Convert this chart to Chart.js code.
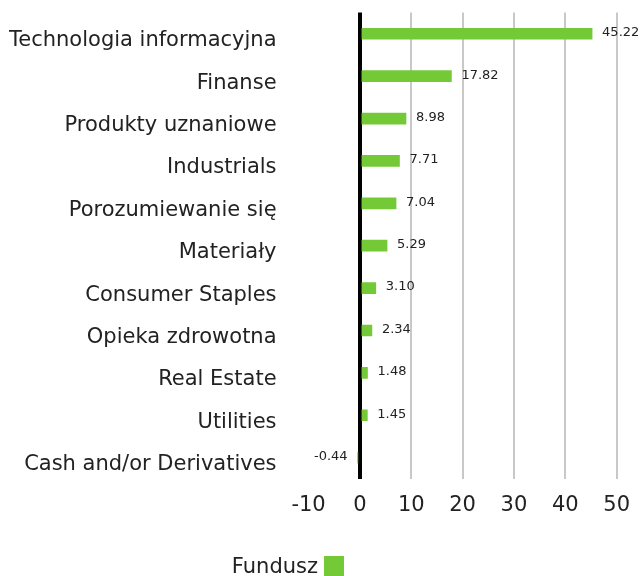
<!DOCTYPE html>
<html>
<head>
<meta charset="utf-8">
<script src="https://cdn.jsdelivr.net/npm/chart.js@4/dist/chart.umd.min.js"></script>
<style>
html,body{margin:0;padding:0;background:#fff;}
#wrap{width:644px;height:576px;}
</style>
</head>
<body>
<div id="wrap"><canvas id="c" width="644" height="576"></canvas></div>
<script>
const categories = [
  "Technologia informacyjna",
  "Finanse",
  "Produkty uznaniowe",
  "Industrials",
  "Porozumiewanie się",
  "Materiały",
  "Consumer Staples",
  "Opieka zdrowotna",
  "Real Estate",
  "Utilities",
  "Cash and/or Derivatives"
];
const fundValues = [45.22, 17.82, 8.98, 7.71, 7.04, 5.29, 3.10, 2.34, 1.48, 1.45, -0.44];
const valueLabels = ["45.22", "17.82", "8.98", "7.71", "7.04", "5.29", "3.10", "2.34", "1.48", "1.45", "-0.44"];
const xTicks = [-10, 0, 10, 20, 30, 40, 50];
const seriesName = "Fundusz";

const GREEN = "#74c936";
const FONT = "'DejaVu Sans', sans-serif";

const valueLabelPlugin = {
  id: "valueLabels",
  afterDatasetsDraw(chart) {
    const ctx = chart.ctx;
    const meta = chart.getDatasetMeta(0);
    ctx.save();
    ctx.font = "13px " + FONT;
    ctx.fillStyle = "#222";
    ctx.textBaseline = "middle";
    meta.data.forEach((bar, i) => {
      const v = fundValues[i];
      if (v >= 0) {
        ctx.textAlign = "left";
        ctx.fillText(valueLabels[i], bar.x + 10, bar.y - 1);
      } else {
        ctx.textAlign = "right";
        ctx.fillText(valueLabels[i], bar.x - 10, bar.y - 1);
      }
    });
    ctx.restore();
  }
};

const legendPlugin = {
  id: "customLegend",
  afterDraw(chart) {
    const ctx = chart.ctx;
    ctx.save();
    ctx.font = "21px " + FONT;
    ctx.fillStyle = "#222";
    ctx.textBaseline = "middle";
    ctx.textAlign = "right";
    const boxX = 324, boxY = 556, boxS = 20;
    ctx.fillText(seriesName, boxX - 6, boxY + 12);
    ctx.fillStyle = GREEN;
    ctx.fillRect(boxX, boxY, boxS, boxS);
    ctx.restore();
  }
};

new Chart(document.getElementById("c"), {
  type: "bar",
  data: {
    labels: categories,
    datasets: [{
      label: seriesName,
      data: fundValues,
      backgroundColor: GREEN,
      borderWidth: 0,
      barThickness: 11
    }]
  },
  options: {
    indexAxis: "y",
    responsive: false,
    animation: false,
    layout: { padding: { top: 12, right: 14, bottom: 44, left: 9 } },
    plugins: {
      legend: { display: false },
      tooltip: { enabled: false }
    },
    scales: {
      x: {
        min: -10,
        max: 50,
        afterBuildTicks(scale) { scale.ticks = xTicks.map(v => ({ value: v })); },
        border: { display: false },
        grid: {
          drawTicks: false,
          color(ctx) {
            const v = ctx.tick && ctx.tick.value;
            if (v === 0) return "#000";
            if (v === -10) return "rgba(0,0,0,0)";
            return "#c8c8c8";
          },
          lineWidth(ctx) {
            const v = ctx.tick && ctx.tick.value;
            return v === 0 ? 4 : 2;
          }
        },
        ticks: {
          color: "#222",
          font: { size: 21, family: FONT },
          padding: 14,
          maxRotation: 0,
          autoSkip: false
        }
      },
      y: {
        border: { display: false },
        grid: { display: false, drawTicks: true, tickLength: 32 },
        ticks: {
          color: "#222",
          font: { size: 21, family: FONT },
          padding: 0,
          labelOffset: 7,
          autoSkip: false
        }
      }
    }
  },
  plugins: [valueLabelPlugin, legendPlugin]
});
</script>
</body>
</html>
